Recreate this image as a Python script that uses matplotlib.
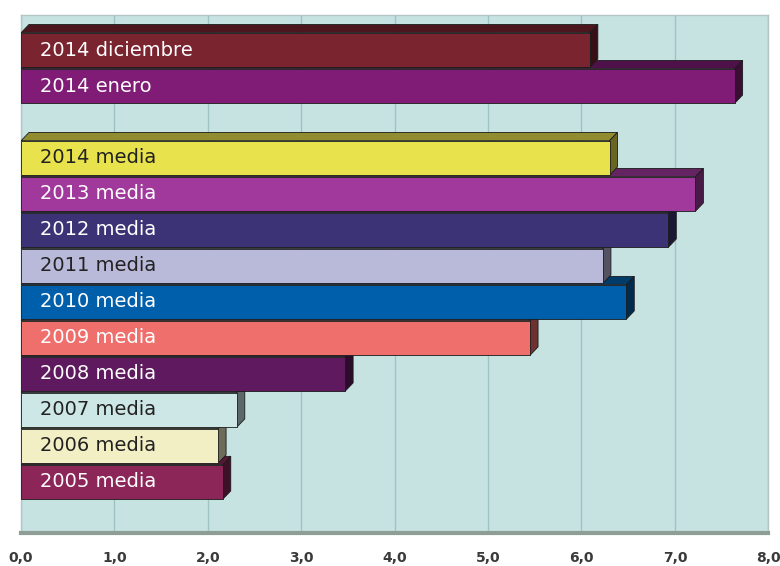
import matplotlib.pyplot as plt
from matplotlib.patches import Polygon
from matplotlib.colors import to_rgb

plt.rcParams.update({
    "font.family": "DejaVu Sans",
    "figure.dpi": 100,
})

# annual averages, bottom to top
labels_media = ["2005 media", "2006 media", "2007 media", "2008 media", "2009 media",
                "2010 media", "2011 media", "2012 media", "2013 media", "2014 media"]
values_media = [2.16, 2.11, 2.31, 3.47, 5.45, 6.48, 6.23, 6.93, 7.22, 6.30]
colors_media = ["#8c2558", "#f2efc4", "#cce7e6", "#5f1a5f", "#ef6f6d",
                "#005fab", "#b9b9d9", "#3c3376", "#a1399c", "#e8e24c"]
text_media = ["white", "#222222", "#222222", "white", "white",
              "white", "#222222", "white", "white", "#222222"]

# 2014 months, bottom to top
labels_month = ["2014 enero", "2014 diciembre"]
values_month = [7.64, 6.09]
colors_month = ["#801c76", "#7a2430"]
text_month = ["white", "white"]

xticks = [0, 1, 2, 3, 4, 5, 6, 7, 8]
xtick_labels = ["0,0", "1,0", "2,0", "3,0", "4,0", "5,0", "6,0", "7,0", "8,0"]

GAP = 1          # empty slot between the two groups
BAR_H = 0.96
DX, DY = 0.085, 0.23   # fake 3D depth (data units)


def shade(c, f):
    r, g, b = to_rgb(c)
    return (r * f, g * f, b * f)


labels = labels_media + labels_month
values = values_media + values_month
colors = colors_media + colors_month
tcolors = text_media + text_month
ypos = list(range(len(labels_media))) + \
    [len(labels_media) + GAP + i for i in range(len(labels_month))]

fig = plt.figure(figsize=(7.8, 5.66))
ax = fig.add_axes([0.027, 0.0583, 0.958, 0.915])
ax.set_facecolor("#c6e3e2")

for i, (lab, v, c, tc, y) in enumerate(zip(labels, values, colors, tcolors, ypos)):
    z = 3 + i
    y0, y1 = y - BAR_H / 2, y + BAR_H / 2
    top = Polygon([(0, y1), (DX, y1 + DY), (v + DX, y1 + DY), (v, y1)],
                  closed=True, facecolor=shade(c, 0.62), edgecolor="#1a1a1a",
                  linewidth=0.6, zorder=z)
    side = Polygon([(v, y0), (v + DX, y0 + DY), (v + DX, y1 + DY), (v, y1)],
                   closed=True, facecolor=shade(c, 0.45), edgecolor="#1a1a1a",
                   linewidth=0.6, zorder=z)
    ax.add_patch(top)
    ax.add_patch(side)
    ax.barh(y, v, height=BAR_H, color=c, edgecolor="#1a1a1a", linewidth=0.6, zorder=z + 0.5)
    ax.text(0.2, y, lab, color=tc, fontsize=14, va="center", ha="left", zorder=50)

ax.set_xlim(0, 8)
ax.set_ylim(-1.42, 12.97)
ax.set_yticks([])
ax.set_xticks(xticks)
ax.set_xticklabels(xtick_labels, fontsize=10, fontweight="bold", color="#3a3a3a")
ax.tick_params(axis="x", length=0, pad=13)
ax.grid(axis="x", color="#9fc3c1", linewidth=1, zorder=0)
ax.set_axisbelow(True)

for s in ["top", "left", "right"]:
    ax.spines[s].set_color("#b3c6c4")
    ax.spines[s].set_linewidth(1)
ax.spines["bottom"].set_color("#8e9e96")
ax.spines["bottom"].set_linewidth(3)

fig.savefig("out.png", dpi=100, facecolor="white")
